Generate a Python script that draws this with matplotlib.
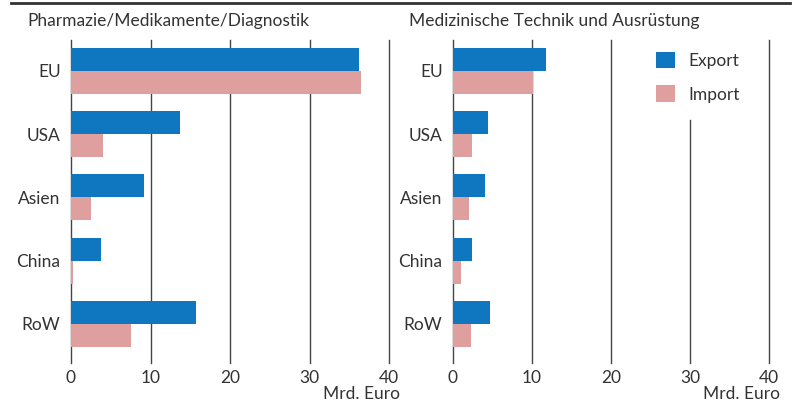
import numpy as np
import matplotlib.pyplot as plt
from matplotlib.lines import Line2D

plt.rcParams['font.family'] = ['Lato', 'DejaVu Sans']

# Data
regions = ['EU', 'USA', 'Asien', 'China', 'RoW']
pharma_export = [36.2, 13.7, 9.2, 3.8, 15.7]
pharma_import = [36.5, 4.0, 2.5, 0.25, 7.5]
tech_export = [11.8, 4.4, 4.0, 2.4, 4.7]
tech_import = [10.1, 2.4, 2.0, 1.0, 2.3]
titles = ['Pharmazie/Medikamente/Diagnostik', 'Medizinische Technik und Ausrüstung']
xticks = [0, 10, 20, 30, 40]

blue = '#0f77bf'
pink = '#e09f9f'
txt = '#333333'
grid = '#444444'
fs = 12.5

fig = plt.figure(figsize=(8, 4.03), dpi=100)
ax1 = fig.add_axes([71 / 800, 40 / 403, 318 / 800, 323 / 403])
ax2 = fig.add_axes([453 / 800, 40 / 403, 316 / 800, 323 / 403])

y = np.arange(len(regions))
h = 0.365

for ax, exp, imp in [(ax1, pharma_export, pharma_import), (ax2, tech_export, tech_import)]:
    for xv in xticks:
        if ax is ax2 and xv == 30:
            ax.axvline(xv, ymax=0.752, color=grid, lw=1, zorder=0, clip_on=False)
        else:
            ax.axvline(xv, color=grid, lw=1, zorder=0, clip_on=False)
    ax.barh(y - h / 2, exp, height=h, color=blue, label='Export', zorder=2)
    ax.barh(y + h / 2, imp, height=h, color=pink, label='Import', zorder=2)
    ax.set_xlim(0, 40)
    ax.set_ylim(4.62, -0.49)
    ax.set_xticks(xticks)
    ax.set_yticks(y)
    ax.set_yticklabels(regions)
    ax.tick_params(length=0, labelsize=fs, colors=txt)
    ax.tick_params(axis='y', pad=7.5)
    ax.tick_params(axis='x', pad=5)
    for s in ax.spines.values():
        s.set_visible(False)
    ax.text(1.035, -0.07, 'Mrd. Euro', transform=ax.transAxes, ha='right', va='top',
            fontsize=fs, color=txt)

fig.text(27 / 800, 1 - 21 / 403, titles[0], fontsize=fs, color=txt, va='center')
fig.text(409 / 800, 1 - 21 / 403, titles[1], fontsize=fs, color=txt, va='center')

fig.add_artist(Line2D([11 / 800, 790 / 800], [1 - 3 / 403, 1 - 3 / 403], color=txt, lw=2))

ax2.legend(loc='upper left', bbox_to_anchor=(0.593, 1.012), frameon=False, fontsize=fs,
           handlelength=1.1, handleheight=1.1, labelspacing=0.95, handletextpad=0.75,
           labelcolor=txt)

fig.savefig('out.png', dpi=100)
